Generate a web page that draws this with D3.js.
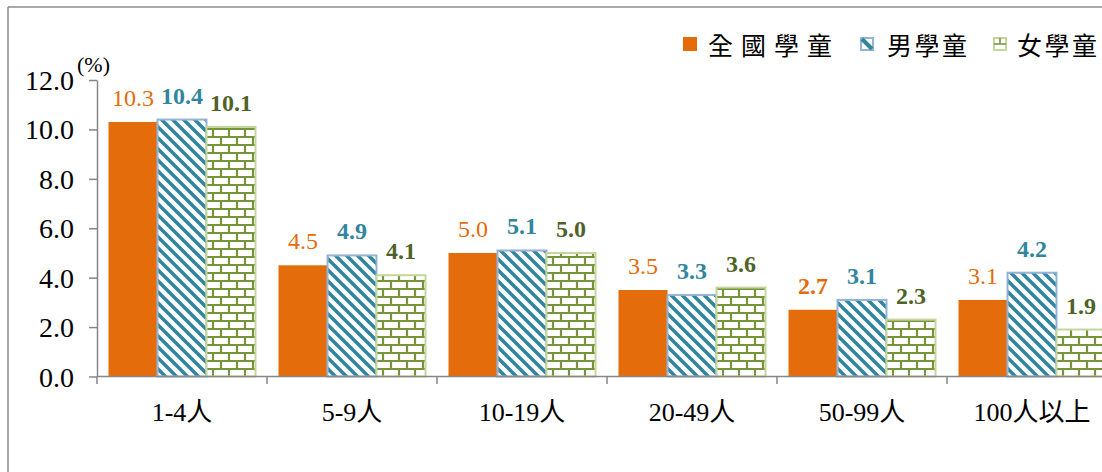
<!DOCTYPE html>
<html>
<head>
<meta charset="utf-8">
<script src="https://cdn.jsdelivr.net/npm/d3@7"></script>
<style>
  html, body { margin: 0; padding: 0; background: #fff; }
  svg { display: block; }
</style>
</head>
<body>
<svg id="chart" width="1102" height="472"></svg>
<script>
// Household size groups
const categories = ["1-4人", "5-9人", "10-19人", "20-49人", "50-99人", "100人以上"];
// Percentage of pupils, by group
const allPupils   = [10.3, 4.5, 5.0, 3.5, 2.7, 3.1];
const boyPupils   = [10.4, 4.9, 5.1, 3.3, 3.1, 4.2];
const girlPupils  = [10.1, 4.1, 5.0, 3.6, 2.3, 1.9];
const seriesNames = ["全國學童", "男學童", "女學童"];
const yTicks = [0, 2, 4, 6, 8, 10, 12];

const SERIF = "'Liberation Serif', 'Noto Sans CJK TC', serif";
const CJK = "'Noto Sans CJK TC', sans-serif";

const seriesStyle = [
  { key: "all",  fill: "#E46C0A", stroke: "none",    label: "#E46C0A" },
  { key: "boy",  fill: "url(#hatch)", stroke: "#95B3D7", label: "#31859C" },
  { key: "girl", fill: "url(#brick)", stroke: "#C3D69B", label: "#4F6228" }
];
const seriesData = [allPupils, boyPupils, girlPupils];

const svg = d3.select("#chart");

// Patterns for the two sex series
const defs = svg.append("defs");
const hatch = defs.append("pattern")
  .attr("id", "hatch").attr("patternUnits", "userSpaceOnUse")
  .attr("width", 11).attr("height", 11);
hatch.append("rect").attr("width", 11).attr("height", 11).attr("fill", "#fff");
hatch.append("path")
  .attr("d", "M-1,-1 L12,12 M-12,-1 L1,12 M10,-1 L23,12")
  .attr("stroke", "#31859C").attr("stroke-width", 3.6);

const brick = defs.append("pattern")
  .attr("id", "brick").attr("patternUnits", "userSpaceOnUse")
  .attr("width", 16).attr("height", 16);
brick.append("rect").attr("width", 16).attr("height", 16).attr("fill", "#fff");
brick.append("path")
  .attr("d", "M0,1 H16 M0,9 H16 M4,1 V9 M12,9 V17")
  .attr("stroke", "#77933C").attr("stroke-width", 2.2).attr("fill", "none");

// Frame lines
svg.append("line").attr("x1", 8).attr("x2", 1102).attr("y1", 7).attr("y2", 7)
  .attr("stroke", "#8c8c8c").attr("stroke-width", 1.5);
svg.append("line").attr("x1", 8).attr("x2", 8).attr("y1", 7).attr("y2", 472)
  .attr("stroke", "#8c8c8c").attr("stroke-width", 1.5);

// Scales
const x0 = d3.scaleBand().domain(categories).range([97, 97 + 170 * 6]).padding(0);
const x1 = d3.scaleBand().domain([0, 1, 2]).range([11.5, 170 - 11.5]).padding(0);
const y = d3.scaleLinear().domain([0, 12]).range([376.5, 80]);

// Y axis
const yAxis = d3.axisLeft(y).tickValues(yTicks).tickFormat(d3.format(".1f"))
  .tickSize(8).tickSizeOuter(0).tickPadding(15);
const gy = svg.append("g").attr("transform", "translate(97,0)").call(yAxis);
gy.attr("font-family", null).attr("font-size", null);
gy.select(".domain").attr("stroke", "#868686").attr("stroke-width", 1.5);
gy.selectAll(".tick line").attr("stroke", "#868686").attr("stroke-width", 1.5);
gy.selectAll(".tick text").attr("fill", "#000").attr("dy", "0.34em")
  .style("font-family", SERIF).style("font-size", "28px");

svg.append("text").attr("x", 77).attr("y", 72).attr("fill", "#000")
  .style("font-family", SERIF).style("font-size", "22px").text("(%)");

// Bars
const groups = svg.append("g").selectAll("g").data(categories).join("g")
  .attr("transform", d => `translate(${x0(d)},0)`);

seriesStyle.forEach((s, si) => {
  groups.append("rect")
    .attr("x", x1(si))
    .attr("width", x1.bandwidth())
    .attr("y", (d, i) => y(seriesData[si][i]))
    .attr("height", (d, i) => y(0) - y(seriesData[si][i]))
    .attr("fill", s.fill)
    .attr("stroke", s.stroke)
    .attr("stroke-width", s.stroke === "none" ? 0 : 2);

  groups.append("text")
    .attr("x", x1(si) + x1.bandwidth() / 2)
    .attr("y", (d, i) => y(seriesData[si][i]) - 16)
    .attr("text-anchor", "middle")
    .attr("fill", s.label)
    .style("font-family", SERIF)
    .style("font-size", "24px")
    .style("font-weight", (d, i) => (si === 0 && seriesData[si][i] !== 2.7) ? "normal" : "bold")
    .text((d, i) => d3.format(".1f")(seriesData[si][i]));
});

// X axis
svg.append("line").attr("x1", 97).attr("x2", 1102).attr("y1", 376.5).attr("y2", 376.5)
  .attr("stroke", "#868686").attr("stroke-width", 1.5);
const boundaries = d3.range(categories.length + 1).map(i => 97 + x0.step() * i);
svg.append("g").selectAll("line").data(boundaries).join("line")
  .attr("x1", d => d).attr("x2", d => d).attr("y1", 376.5).attr("y2", 384)
  .attr("stroke", "#868686").attr("stroke-width", 1.5);
svg.append("g").selectAll("text").data(categories).join("text")
  .attr("x", d => x0(d) + x0.bandwidth() / 2)
  .attr("y", 421)
  .attr("text-anchor", "middle")
  .attr("fill", "#000")
  .style("font-family", SERIF)
  .style("font-size", "26px")
  .text(d => d);

// Legend
const legendX = [683, 860, 993];
const legendGap = [25, 27, 24];
const legendSpacing = [8, 2.5, 2.5];
const legend = svg.append("g");
seriesStyle.forEach((s, si) => {
  const g = legend.append("g").attr("transform", `translate(${legendX[si]},37)`);
  if (si === 0) {
    g.append("rect").attr("width", 14).attr("height", 14).attr("fill", s.fill);
  } else if (si === 1) {
    g.append("rect").attr("x", 1).attr("y", 1).attr("width", 12).attr("height", 12)
      .attr("fill", "#fff").attr("stroke", s.stroke).attr("stroke-width", 2);
    g.append("path").attr("d", "M2,2 L12,12").attr("stroke", "#31859C").attr("stroke-width", 4);
  } else {
    g.append("rect").attr("x", 1).attr("y", 1).attr("width", 12).attr("height", 12)
      .attr("fill", "#fff").attr("stroke", s.stroke).attr("stroke-width", 2);
    g.append("path").attr("d", "M1,7 H13 M7,1 V7").attr("stroke", "#77933C").attr("stroke-width", 1.6);
  }
  g.append("text").attr("x", legendGap[si]).attr("y", 17.5)
    .attr("fill", "#000")
    .style("font-family", CJK)
    .style("font-size", "25px")
    .style("letter-spacing", legendSpacing[si] + "px")
    .text(seriesNames[si]);
});
</script>
</body>
</html>
